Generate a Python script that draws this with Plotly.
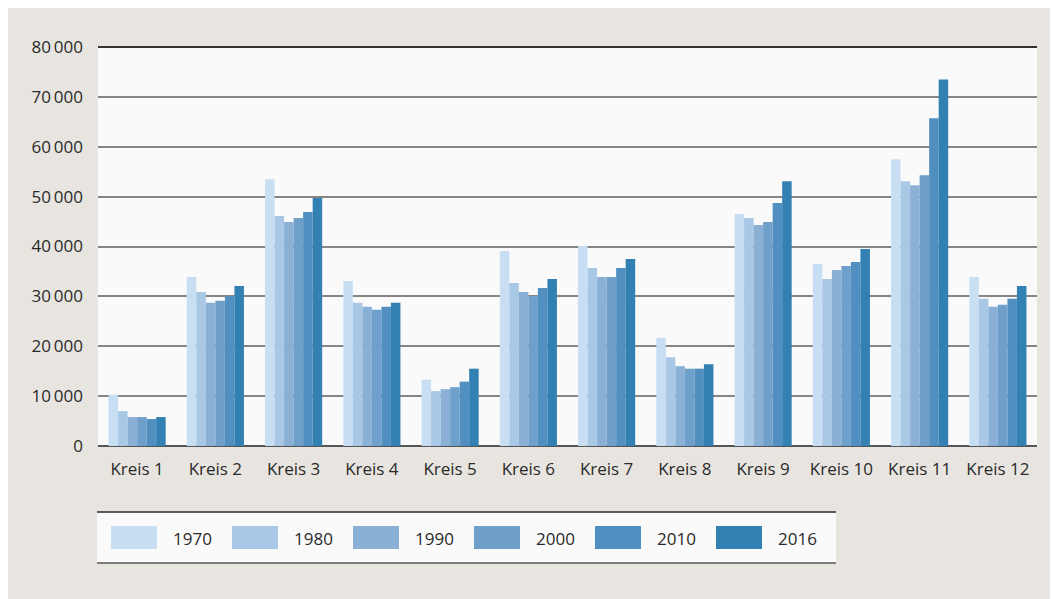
import plotly.graph_objects as go

categories = ["Kreis 1", "Kreis 2", "Kreis 3", "Kreis 4", "Kreis 5", "Kreis 6",
              "Kreis 7", "Kreis 8", "Kreis 9", "Kreis 10", "Kreis 11", "Kreis 12"]
years = ["1970", "1980", "1990", "2000", "2010", "2016"]

v1970 = [10300, 33900, 53500, 33100, 13300, 39100, 40100, 21700, 46500, 36500, 57500, 33900]
v1980 = [7000, 30900, 46100, 28700, 11000, 32700, 35700, 17800, 45700, 33500, 53100, 29500]
v1990 = [5800, 28700, 44900, 27900, 11400, 30900, 33900, 16000, 44300, 35300, 52300, 27900]
v2000 = [5800, 29100, 45700, 27300, 11800, 30100, 33900, 15500, 44900, 36100, 54300, 28300]
v2010 = [5400, 30100, 46900, 27900, 12900, 31700, 35700, 15500, 48700, 36900, 65700, 29500]
v2016 = [5800, 32100, 49700, 28700, 15500, 33500, 37500, 16400, 53100, 39500, 73500, 32100]
series = [v1970, v1980, v1990, v2000, v2010, v2016]

colors = ["#c8dff3", "#a8c8e5", "#8ab0d6", "#6ea0cb", "#508fbf", "#3380b3"]

tick_vals = [0, 10000, 20000, 30000, 40000, 50000, 60000, 70000, 80000]
tick_text = ["0", "10\u2009000", "20\u2009000", "30\u2009000", "40\u2009000",
             "50\u2009000", "60\u2009000", "70\u2009000", "80\u2009000"]

# figure sits inside the page body (8 px margin)
OFF = 8
W, H = 1050, 597
L, R, T = 90, 21, 39
PH = 399
B = H - T - PH
PW = W - L - R


def px(x):
    # page x -> paper x
    return (x - OFF - L) / PW


def py(y):
    # page y -> paper y
    return (H - B - (y - OFF)) / PH


fig = go.Figure()
for yr, vals, col in zip(years, series, colors):
    fig.add_trace(go.Bar(x=categories, y=vals, name=yr, marker=dict(color=col, line=dict(width=0)),
                         showlegend=False))

font = dict(family="Open Sans, Noto Sans, sans-serif", size=17, color="#2a2a2a")

shapes = []
annotations = []
# top border of plot area
shapes.append(dict(type="line", xref="paper", yref="paper", x0=0, x1=1, y0=1, y1=1,
                   line=dict(color="#333333", width=2)))

# legend box
shapes.append(dict(type="rect", xref="paper", yref="paper", x0=px(97), x1=px(836), y0=py(563), y1=py(512),
                   fillcolor="#fafafa", line=dict(width=0)))
shapes.append(dict(type="line", xref="paper", yref="paper", x0=px(97), x1=px(836), y0=py(512), y1=py(512),
                   line=dict(color="#2a2a2a", width=1.5)))
shapes.append(dict(type="line", xref="paper", yref="paper", x0=px(97), x1=px(836), y0=py(563), y1=py(563),
                   line=dict(color="#555555", width=1.5)))
for i, (yr, col) in enumerate(zip(years, colors)):
    x0 = 111 + i * 121
    shapes.append(dict(type="rect", xref="paper", yref="paper", x0=px(x0), x1=px(x0 + 46),
                       y0=py(549), y1=py(526), fillcolor=col, line=dict(width=0)))
    annotations.append(dict(text=yr, xref="paper", yref="paper", x=px(x0 + 60), y=py(538),
                            xanchor="left", yanchor="middle", showarrow=False, font=font))

fig.update_layout(
    width=W, height=H,
    margin=dict(l=L, r=R, t=T, b=B, pad=0),
    paper_bgcolor="#e8e5e0",
    plot_bgcolor="#fafafa",
    barmode="group",
    bargap=0.27,
    bargroupgap=0,
    font=font,
    shapes=shapes,
    annotations=annotations,
    showlegend=False,
    xaxis=dict(showgrid=False, showline=False, ticks="", ticklabelstandoff=11, tickfont=font,
               fixedrange=True),
    yaxis=dict(range=[0, 80000], tickvals=tick_vals, ticktext=tick_text, showgrid=True,
               gridcolor="#858585", gridwidth=1.5, zeroline=True, zerolinecolor="#555555",
               zerolinewidth=2, ticks="", ticklabelstandoff=14, tickfont=font, showline=False,
               fixedrange=True),
)

fig.write_html("out.html")
